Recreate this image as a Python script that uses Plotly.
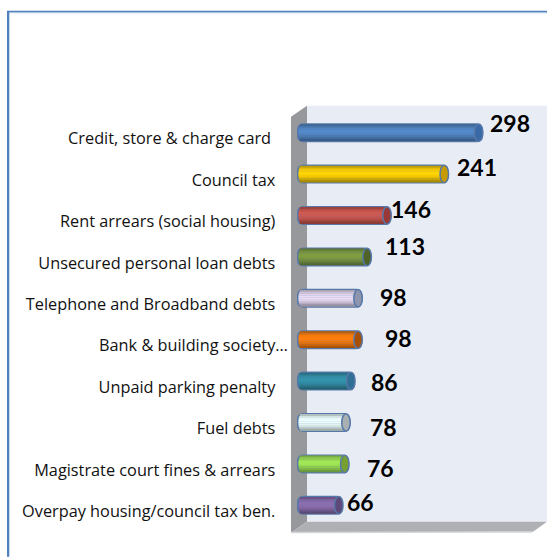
import plotly.graph_objects as go

categories = ["Credit, store & charge card ", "Council tax", "Rent arrears (social housing)",
              "Unsecured personal loan debts", "Telephone and Broadband debts",
              "Bank & building society…", "Unpaid parking penalty", "Fuel debts",
              "Magistrate court fines & arrears", "Overpay housing/council tax ben."]
values = [298, 241, 146, 113, 98, 98, 86, 78, 76, 66]
bar_colors = ["#5287c6", "#ffd000", "#cc5850", "#7d9a40", "#e4d8f0",
              "#fb7c0c", "#3290a8", "#eafcfc", "#9ee254", "#8a6cac"]
cap_colors = ["#3a6aa6", "#c79a00", "#9a3838", "#4f6228", "#8f95ac",
              "#a84f06", "#2f6f96", "#a8b0b2", "#76a030", "#5f497a"]
label_dx = [27, 28, 20, 34, 31, 36, 29, 33, 31, 17]
label_dy = [10, 7, 7, 11, 1, 2, -1, -4, -4, 3]

W, H = 547, 557
L, R, T, B = 297, 547, 112.3, 526.3
OUTLINE = "#5678a8"


def px(v):
    return (v - L) / (R - L)


def py(v):
    return 1 - (v - T) / (B - T)


def poly(points, color, width=0, line="rgba(0,0,0,0)"):
    path = "M " + " L ".join(f"{px(a):.5f},{py(b):.5f}" for a, b in points) + " Z"
    return dict(type="path", path=path, xref="paper", yref="paper", fillcolor=color,
                line=dict(width=width, color=line), layer="below")


def shade(color, f):
    c = [int(color[i:i + 2], 16) for i in (1, 3, 5)]
    c = [min(255, round(x * f)) for x in c]
    return "#%02x%02x%02x" % tuple(c)


scale = 0.603          # pixels per unit
base0 = -10.3
ys = list(range(len(values)))
row_h = 41.4
bar_h = 19
shape_factors = [0.76, 0.9, 0.98, 1.02, 1.02, 0.97, 0.9, 0.8, 0.68]
strip_h = (bar_h - 2.5) / len(shape_factors)
cap_units = 8.5 / scale

fig = go.Figure()

fig.add_trace(go.Bar(
    y=ys, x=[v - base0 for v in values], base=base0, orientation="h",
    width=bar_h / row_h, marker=dict(color=OUTLINE, cornerradius=6, line=dict(width=0)),
    hoverinfo="skip", showlegend=False))

n = len(shape_factors)
for j, f in enumerate(shape_factors):
    pos = (j - (n - 1) / 2) * strip_h
    t = abs(pos) / (bar_h / 2)
    inset = (1.4 + 4 * (1 - (1 - t * t) ** 0.5)) / scale
    fig.add_trace(go.Bar(
        y=[i + pos / row_h for i in ys],
        x=[v - cap_units / 2 - base0 - inset for v in values],
        base=base0 + inset, orientation="h", width=(strip_h + 0.3) / row_h,
        marker=dict(color=[shade(c, f) for c in bar_colors], line=dict(width=0)),
        hoverinfo="skip", showlegend=False))

shapes = [
    # page frame
    poly([(7, 11), (547, 11), (547, 12.8), (9.3, 12.8), (9.3, 557), (7, 557)], "#4f81bd"),
    poly([(9.3, 12.8), (547, 12.8), (547, 13.6), (9.3, 13.6)], "#b8cce4"),
    # back plane, wall and floor
    poly([(307, 106), (547, 106), (547, 522), (307, 522)], "#e8ecf5"),
    poly([(291, 117), (307, 106), (307, 522), (291, 533)], "#97989c"),
    poly([(291, 533), (307, 522), (547, 522), (533, 532)], "#aeb0b4"),
    poly([(291, 532), (533, 531.5), (532, 533), (291, 533.5)], "#d4d6da"),
]
for i, (v, c) in enumerate(zip(values, cap_colors)):
    half = (bar_h - 1.5) / 2 / row_h
    shapes.append(dict(type="circle", xref="x", yref="y", x0=v - cap_units, x1=v,
                       y0=i - half, y1=i + half, fillcolor=c,
                       line=dict(color=OUTLINE, width=1.5), layer="above"))

annotations = [
    dict(x=v, y=i, xref="x", yref="y", text=f"<b>{v}</b>", showarrow=False,
         xshift=dx, yshift=dy, font=dict(family="Lato", size=23, color="#000000"))
    for i, (v, dx, dy) in enumerate(zip(values, label_dx, label_dy))
]

ticktext = [c + "\u00a0\u00a0\u00a0" if not c.startswith("Bank") else c for c in categories]

fig.update_layout(
    width=W, height=H, autosize=False, barmode="overlay",
    margin=dict(l=L, r=W - R, t=T, b=H - B, pad=0),
    paper_bgcolor="#ffffff", plot_bgcolor="rgba(0,0,0,0)",
    showlegend=False, shapes=shapes, annotations=annotations,
    xaxis=dict(range=[base0, (R - L) / scale + base0], visible=False, fixedrange=True),
    yaxis=dict(range=[len(values) - 0.5, -0.5], tickmode="array",
               tickvals=[i + 6 / row_h for i in ys], ticktext=ticktext,
               showgrid=False, zeroline=False, showline=False, ticks="",
               ticklabelstandoff=8, fixedrange=True,
               tickfont=dict(family="Open Sans", size=16.3, color="#111111")),
)

fig.write_html("out.html", config={"displayModeBar": False},
               post_script="document.body.style.margin='0';document.body.style.overflow='hidden';")
